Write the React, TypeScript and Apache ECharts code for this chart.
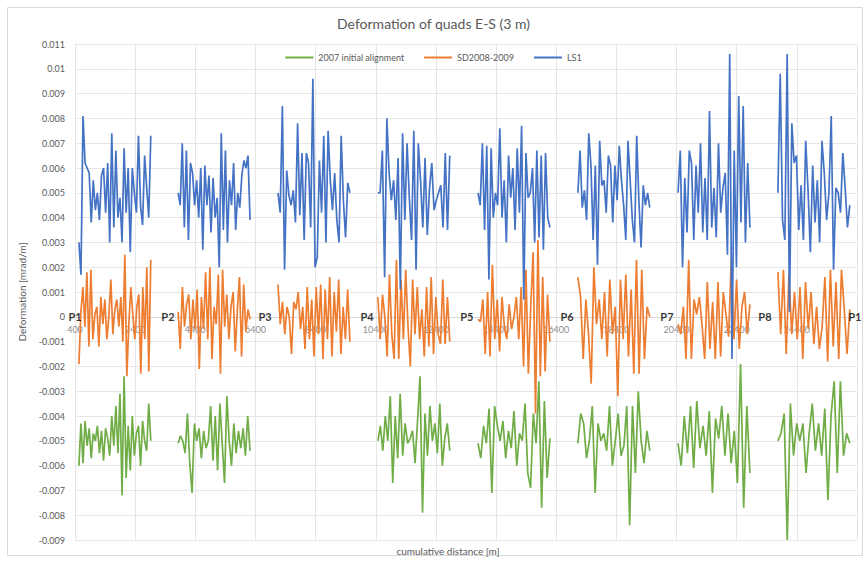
import React, { useEffect, useRef } from "react";
import * as echarts from "echarts";

// Segment (arc) start positions along the ring [m] and arc length
const segStarts = [530, 3830, 7150, 10470, 13800, 17120, 20450, 23770];
const segSpan = 2390;

// Interaction point labels
const pointNames = ["P1", "P2", "P3", "P4", "P5", "P6", "P7", "P8", "P1"];
const pointX = [400, 3490, 6720, 10110, 13430, 16760, 20080, 23340, 26330];

const seriesNames = ["2007 initial alignment", "SD2008-2009", "LS1"];

// 2007 initial alignment (green), per arc
const green1 = [-0.0060, -0.0043, -0.0059, -0.0042, -0.0052, -0.0045, -0.0057, -0.0047, -0.0050, -0.0044, -0.0055, -0.0046, -0.0058, -0.0045, -0.0049, -0.0056, -0.0040, -0.0052, -0.0036, -0.0055, -0.0031, -0.0072, -0.0024, -0.0065, -0.0044, -0.0062, -0.0040, -0.0056, -0.0047, -0.0044, -0.0060, -0.0042, -0.0050, -0.0054, -0.0035, -0.0050];
const green2 = [-0.0051, -0.0048, -0.0050, -0.0055, -0.0039, -0.0059, -0.0071, -0.0043, -0.0050, -0.0045, -0.0057, -0.0046, -0.0053, -0.0050, -0.0036, -0.0058, -0.0040, -0.0062, -0.0035, -0.0051, -0.0067, -0.0032, -0.0050, -0.0060, -0.0043, -0.0055, -0.0046, -0.0053, -0.0045, -0.0056, -0.0040, -0.0054];
const green3: number[] = [];
const green4 = [-0.0050, -0.0044, -0.0054, -0.0040, -0.0050, -0.0032, -0.0067, -0.0040, -0.0057, -0.0031, -0.0056, -0.0043, -0.0051, -0.0049, -0.0046, -0.0059, -0.0042, -0.0024, -0.0079, -0.0039, -0.0056, -0.0036, -0.0050, -0.0043, -0.0055, -0.0035, -0.0060, -0.0049, -0.0043, -0.0054];
const green5 = [-0.0051, -0.0057, -0.0044, -0.0051, -0.0037, -0.0071, -0.0036, -0.0044, -0.0050, -0.0042, -0.0057, -0.0046, -0.0053, -0.0038, -0.0060, -0.0047, -0.0050, -0.0035, -0.0063, -0.0069, -0.0039, -0.0051, -0.0026, -0.0077, -0.0034, -0.0065, -0.0049];
const green6 = [-0.0051, -0.0039, -0.0043, -0.0057, -0.0050, -0.0036, -0.0071, -0.0043, -0.0050, -0.0047, -0.0054, -0.0036, -0.0060, -0.0050, -0.0039, -0.0056, -0.0052, -0.0036, -0.0084, -0.0036, -0.0063, -0.0030, -0.0050, -0.0059, -0.0046, -0.0054];
const green7 = [-0.0051, -0.0060, -0.0040, -0.0055, -0.0036, -0.0061, -0.0034, -0.0053, -0.0044, -0.0056, -0.0038, -0.0071, -0.0041, -0.0049, -0.0036, -0.0056, -0.0039, -0.0059, -0.0046, -0.0067, -0.0019, -0.0077, -0.0036, -0.0063];
const green8 = [-0.0050, -0.0047, -0.0039, -0.0090, -0.0035, -0.0056, -0.0043, -0.0050, -0.0043, -0.0063, -0.0047, -0.0035, -0.0054, -0.0043, -0.0056, -0.0037, -0.0074, -0.0040, -0.0026, -0.0063, -0.0026, -0.0056, -0.0047, -0.0051];

// SD2008-2009 (orange), per arc
const orange1 = [-0.0019, 0.0002, 0.0012, -0.0004, 0.0018, -0.0012, 0.0019, -0.0009, 0.0001, 0.0004, -0.0012, 0.0008, -0.0003, 0.0007, -0.0009, 0.0000, 0.0015, -0.0007, 0.0003, 0.0007, -0.0004, 0.0008, -0.0010, 0.0025, -0.0024, -0.0003, 0.0012, 0.0001, -0.0009, 0.0004, 0.0009, -0.0023, 0.0012, -0.0009, 0.0020, -0.0022, 0.0023];
const orange2 = [0.0002, -0.0013, 0.0012, -0.0004, 0.0005, 0.0009, -0.0009, 0.0007, -0.0005, 0.0011, -0.0021, 0.0008, -0.0005, 0.0018, -0.0009, 0.0020, -0.0017, 0.0004, -0.0003, 0.0017, -0.0023, 0.0019, -0.0004, 0.0009, -0.0009, 0.0004, 0.0010, -0.0014, 0.0003, 0.0016, -0.0016, 0.0013, -0.0006, 0.0003, -0.0001];
const orange3 = [0.0013, -0.0003, 0.0006, -0.0007, 0.0004, 0.0000, -0.0015, 0.0006, 0.0003, 0.0010, -0.0005, 0.0004, -0.0013, 0.0012, -0.0009, 0.0007, -0.0016, 0.0012, -0.0007, 0.0013, -0.0017, 0.0011, -0.0009, 0.0016, -0.0016, 0.0010, -0.0006, 0.0015, -0.0015, 0.0004, -0.0009, 0.0011, -0.0010];
const orange4 = [0.0008, -0.0009, 0.0009, 0.0000, -0.0016, 0.0017, -0.0007, -0.0017, 0.0023, -0.0017, 0.0015, -0.0009, 0.0019, -0.0004, -0.0020, 0.0015, -0.0007, 0.0012, -0.0009, 0.0003, -0.0016, 0.0012, -0.0012, 0.0016, -0.0015, 0.0008, -0.0007, -0.0011, 0.0015, -0.0011, 0.0008, -0.0010];
const orange5 = [-0.0001, -0.0002, 0.0007, -0.0015, 0.0010, -0.0016, 0.0021, -0.0009, 0.0007, -0.0014, 0.0008, -0.0004, -0.0009, 0.0005, -0.0005, 0.0000, 0.0008, -0.0009, 0.0012, -0.0020, 0.0019, -0.0023, 0.0004, 0.0026, -0.0039, 0.0031, -0.0024, 0.0016, -0.0022, 0.0009, -0.0010];
const orange6 = [0.0016, 0.0008, -0.0017, 0.0007, -0.0007, -0.0027, 0.0020, -0.0003, 0.0007, -0.0009, 0.0010, -0.0016, 0.0015, -0.0007, 0.0004, -0.0032, 0.0015, -0.0009, 0.0017, -0.0016, 0.0011, -0.0023, 0.0023, -0.0023, 0.0019, -0.0017, 0.0004, 0.0000];
const orange7 = [-0.0003, -0.0007, 0.0004, -0.0017, 0.0023, -0.0017, 0.0007, 0.0001, 0.0008, -0.0003, -0.0017, 0.0014, -0.0013, 0.0006, -0.0017, 0.0014, -0.0016, 0.0010, 0.0001, -0.0008, 0.0023, -0.0009, 0.0015, -0.0013, 0.0004, 0.0010, -0.0007, 0.0005];
const orange8 = [0.0018, -0.0007, 0.0019, -0.0015, 0.0017, -0.0007, 0.0010, -0.0009, 0.0012, -0.0017, 0.0014, -0.0005, 0.0010, -0.0011, 0.0004, -0.0013, -0.0004, 0.0016, -0.0018, 0.0019, -0.0012, 0.0014, -0.0017, 0.0019, 0.0003, -0.0015, 0.0003];

// LS1 (blue), per arc
const blue1 = [0.0030, 0.0017, 0.0081, 0.0062, 0.0060, 0.0058, 0.0038, 0.0055, 0.0043, 0.0050, 0.0039, 0.0057, 0.0060, 0.0042, 0.0062, 0.0030, 0.0074, 0.0036, 0.0067, 0.0040, 0.0048, 0.0030, 0.0068, 0.0042, 0.0060, 0.0026, 0.0060, 0.0050, 0.0042, 0.0073, 0.0045, 0.0037, 0.0065, 0.0052, 0.0040, 0.0073];
const blue2 = [0.0050, 0.0045, 0.0070, 0.0036, 0.0067, 0.0031, 0.0062, 0.0058, 0.0045, 0.0055, 0.0040, 0.0060, 0.0027, 0.0061, 0.0045, 0.0057, 0.0034, 0.0056, 0.0040, 0.0048, 0.0020, 0.0074, 0.0035, 0.0067, 0.0030, 0.0055, 0.0045, 0.0062, 0.0035, 0.0050, 0.0044, 0.0057, 0.0063, 0.0060, 0.0065, 0.0039];
const blue3 = [0.0050, 0.0042, 0.0085, 0.0019, 0.0059, 0.0049, 0.0045, 0.0051, 0.0038, 0.0078, 0.0041, 0.0066, 0.0031, 0.0066, 0.0062, 0.0036, 0.0096, 0.0020, 0.0024, 0.0063, 0.0042, 0.0073, 0.0030, 0.0075, 0.0055, 0.0043, 0.0058, 0.0039, 0.0030, 0.0073, 0.0047, 0.0032, 0.0054, 0.0050];
const blue4 = [0.0050, 0.0050, 0.0067, 0.0016, 0.0080, 0.0058, 0.0047, 0.0055, 0.0039, 0.0064, 0.0011, 0.0074, 0.0039, 0.0070, 0.0048, 0.0031, 0.0075, 0.0019, 0.0070, 0.0055, 0.0036, 0.0064, 0.0033, 0.0052, 0.0062, 0.0043, 0.0047, 0.0050, 0.0053, 0.0036, 0.0066, 0.0035, 0.0065];
const blue5 = [0.0050, 0.0045, 0.0070, 0.0035, 0.0069, 0.0015, 0.0068, 0.0040, 0.0050, 0.0045, 0.0076, 0.0040, 0.0055, 0.0030, 0.0065, 0.0048, 0.0060, 0.0035, 0.0068, 0.0042, 0.0077, 0.0007, 0.0066, 0.0048, 0.0050, 0.0060, 0.0030, 0.0067, 0.0032, 0.0065, 0.0027, 0.0066, 0.0040, 0.0036];
const blue6 = [0.0050, 0.0067, 0.0044, 0.0051, 0.0039, 0.0074, 0.0061, 0.0031, 0.0061, 0.0021, 0.0071, 0.0053, 0.0055, 0.0042, 0.0065, 0.0061, 0.0038, 0.0061, 0.0047, 0.0069, 0.0055, 0.0045, 0.0031, 0.0071, 0.0055, 0.0039, 0.0030, 0.0073, 0.0047, 0.0028, 0.0053, 0.0045, 0.0050, 0.0044];
const blue7 = [0.0050, 0.0067, 0.0020, 0.0056, 0.0034, 0.0067, 0.0062, 0.0031, 0.0061, 0.0042, 0.0070, 0.0034, 0.0056, 0.0031, 0.0083, 0.0036, 0.0052, 0.0032, 0.0070, 0.0042, 0.0052, 0.0058, 0.0025, 0.0106, -0.0017, 0.0067, 0.0020, 0.0089, 0.0038, 0.0085, 0.0030, 0.0062, 0.0036];
const blue8 = [0.0050, 0.0098, 0.0039, 0.0031, 0.0106, 0.0002, 0.0078, 0.0062, 0.0065, 0.0035, 0.0053, 0.0031, 0.0071, 0.0051, 0.0026, 0.0061, 0.0038, 0.0055, 0.0030, 0.0071, 0.0058, 0.0039, 0.0050, 0.0081, 0.0019, 0.0052, 0.0050, 0.0042, 0.0066, 0.0052, 0.0036, 0.0045];

const greenSegs = [green1, green2, green3, green4, green5, green6, green7, green8];
const orangeSegs = [orange1, orange2, orange3, orange4, orange5, orange6, orange7, orange8];
const blueSegs = [blue1, blue2, blue3, blue4, blue5, blue6, blue7, blue8];

function buildData(segs: number[][]) {
  const out: (number | null)[][] = [];
  segs.forEach((seg, i) => {
    const n = seg.length;
    seg.forEach((v, k) => {
      out.push([segStarts[i] + (n > 1 ? (k * segSpan) / (n - 1) : 0), v]);
    });
    out.push([segStarts[i] + segSpan + 200, null]);
  });
  return out;
}

const FONT = "Lato, 'Open Sans', sans-serif";
const GREY = "#595959";

const GRID_TOP = 44;
const GRID_BOTTOM = 29;
const CHART_H = 569;
const Y_MIN = -0.009;
const Y_MAX = 0.011;

export default function App() {
  const ref = useRef<HTMLDivElement>(null);
  useEffect(() => {
    if (!ref.current) return;
    const chart = echarts.init(ref.current, null, { renderer: "svg" });
    const colors = ["#70ad47", "#ed7d31", "#4472c4"];
    // place the horizontal axis at y = 0
    const plotH = CHART_H - GRID_TOP - GRID_BOTTOM;
    const zeroFromBottom = (-Y_MIN / (Y_MAX - Y_MIN)) * plotH;
    const lineSeries = [greenSegs, orangeSegs, blueSegs].map((segs, i) => ({
      name: seriesNames[i],
      type: "line",
      data: buildData(segs),
      symbol: "none",
      connectNulls: false,
      lineStyle: { color: colors[i], width: 1.7 },
      itemStyle: { color: colors[i] },
      z: 2 + i,
    }));
    chart.setOption({
      animation: false,
      backgroundColor: "#ffffff",
      textStyle: { fontFamily: FONT },
      title: {
        text: "Deformation of quads E-S (3 m)",
        left: "center",
        top: 11,
        textStyle: { fontSize: 14, fontWeight: "normal", color: GREY, fontFamily: FONT },
      },
      legend: {
        data: seriesNames,
        top: 48,
        left: "center",
        icon: "rect",
        itemWidth: 28,
        itemHeight: 2,
        itemGap: 20,
        textStyle: { fontSize: 9, color: GREY, fontFamily: FONT },
      },
      grid: { left: 75, right: 10, top: GRID_TOP, bottom: GRID_BOTTOM, containLabel: false },
      xAxis: {
        type: "value",
        min: 400,
        max: 26400,
        interval: 2000,
        offset: -zeroFromBottom,
        axisLine: { onZero: false, lineStyle: { color: "#d9d9d9" } },
        axisTick: { show: false },
        axisLabel: {
          fontSize: 9,
          color: "#8c8c8c",
          margin: 8,
          showMaxLabel: false,
          fontFamily: FONT,
          formatter: (v: number) => String(v),
        },
        splitLine: { show: true, lineStyle: { color: "#e6e6e6" } },
      },
      yAxis: {
        type: "value",
        min: Y_MIN,
        max: Y_MAX,
        interval: 0.001,
        name: "Deformation [mrad/m]",
        nameLocation: "middle",
        nameGap: 48,
        nameTextStyle: { fontSize: 10, color: GREY, fontFamily: FONT },
        axisLine: { show: true, onZero: false, lineStyle: { color: "#e6e6e6" } },
        axisTick: { show: false },
        axisLabel: {
          fontSize: 9,
          color: GREY,
          margin: 10,
          fontFamily: FONT,
          formatter: (v: number) => String(+v.toFixed(3)),
        },
        splitLine: { show: true, lineStyle: { color: "#e6e6e6" } },
      },
      graphic: [
        {
          type: "rect",
          shape: { x: 7.5, y: 7.5, width: 855, height: 548 },
          style: { fill: "none", stroke: "#d9d9d9", lineWidth: 1 },
          silent: true,
        },
        {
          type: "text",
          x: 448,
          y: 551,
          style: {
            text: "cumulative distance [m]",
            fill: GREY,
            font: `10px ${FONT}`,
            textAlign: "center",
            textVerticalAlign: "middle",
          },
        },
      ],
      series: [
        ...lineSeries,
        {
          name: "points",
          type: "scatter",
          symbolSize: 0,
          z: 10,
          data: pointNames.map((n, i) => ({ name: n, value: [pointX[i], 0] })),
          label: {
            show: true,
            position: "inside",
            formatter: (p: any) => p.name,
            fontSize: 11,
            fontWeight: "bold",
            color: "#000",
            fontFamily: FONT,
          },
        },
      ],
    });
    return () => chart.dispose();
  }, []);
  return (
    <div
      ref={ref}
      style={{ position: "fixed", left: 0, top: 0, width: 867, height: 569, background: "#fff" }}
    />
  );
}
